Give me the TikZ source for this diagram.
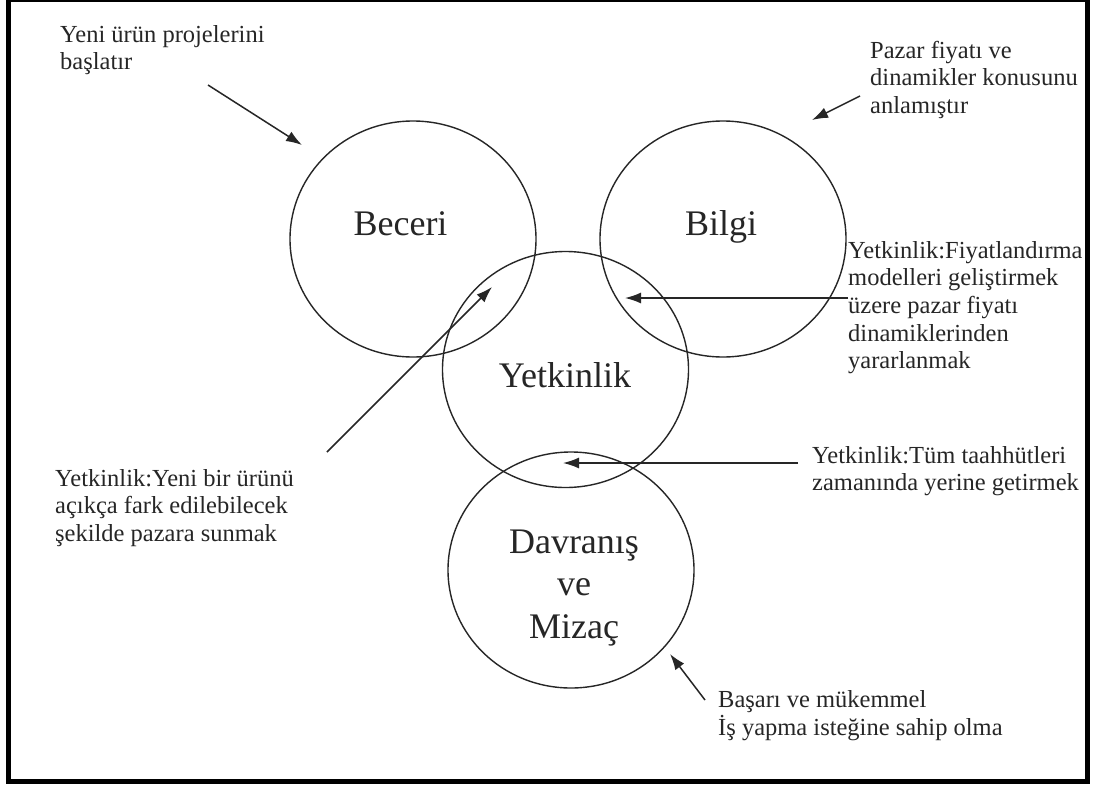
\documentclass[tikz,border=0pt]{standalone}
\usepackage{fontspec}
\setmainfont{Liberation Serif}
\usetikzlibrary{arrows.meta,shapes.geometric}
% multi-line text whose baseline is that of its first line
\newcommand{\leftlines}[1]{\begin{tabular}[t]{@{}l@{}}#1\end{tabular}}
\newcommand{\midlines}[1]{\begin{tabular}[t]{@{}c@{}}#1\end{tabular}}

\begin{document}
\begin{tikzpicture}[x=1pt,y=-1pt,
  ring/.style={draw=black!85, ellipse, line width=1.4pt, minimum width=246pt,
               minimum height=236pt, inner sep=0pt},
  big/.style={font=\fontsize{36}{42.5}\selectfont, text=black!85, inner sep=0pt, anchor=base},
  note/.style={font=\fontsize{24.5}{27.7}\selectfont, text=black!85, inner sep=0pt, anchor=base west},
  pointer/.style={draw=black!85, line width=1.5pt, -{Latex[length=16pt,width=11pt]}},
]
\useasboundingbox (0,0) rectangle (1094,785);
\clip (0,0) rectangle (1094,785);
\fill[white] (0,0) rectangle (1094,785);

% outer frame
\draw[line width=5pt] (8.5,-1) rectangle (1087.5,781.5);

% the four rings
\node[ring] (beceri) at (413,239) {};
\node[ring] (bilgi)  at (723,239) {};
\node[ring] (yetkin) at (565.5,369.5) {};
\node[ring] (davran) at (571,570) {};

% ring labels
\node[big] (lbeceri) at (400.5,235) {Beceri};
\node[big] (lbilgi)  at (721,235) {Bilgi};
\node[big] (lyetkin) at (565,387) {Yetkinlik};
\node[big] (ldavran) at (574,553) {\midlines{Davranış\\ve\\Mizaç}};

% notes
\node[note] (n1) at (60,42) {\leftlines{Yeni ürün projelerini\\başlatır}};
\node[note] (n2) at (870,58) {\leftlines{Pazar fiyatı ve\\dinamikler konusunu\\anlamıştır}};
\node[note] (n3) at (848,258) {\leftlines{Yetkinlik:Fiyatlandırma\\modelleri geliştirmek\\üzere pazar fiyatı\\dinamiklerinden\\yararlanmak}};
\node[note] (n4) at (812,463) {\leftlines{Yetkinlik:Tüm taahhütleri\\zamanında yerine getirmek}};
\node[note] (n5) at (55,486) {\leftlines{Yetkinlik:Yeni bir ürünü\\açıkça fark edilebilecek\\şekilde pazara sunmak}};
\node[note] (n6) at (718,707) {\leftlines{Başarı ve mükemmel\\İş yapma isteğine sahip olma}};

% arrow ends
\coordinate (a1s) at (208,85);   \coordinate (a1e) at (302,145);
\coordinate (a2s) at (860,96);   \coordinate (a2e) at (812,120);
\coordinate (a3s) at (848,298);  \coordinate (a3e) at (625,298);
\coordinate (a4s) at (798,463);  \coordinate (a4e) at (563,463);
\coordinate (a5s) at (327,452);  \coordinate (a5e) at (492,287);
\coordinate (a6s) at (705,700);  \coordinate (a6e) at (670,654);

% arrows
\draw[pointer] (a1s) -- (a1e);
\draw[pointer] (a2s) -- (a2e);
\draw[pointer] (a3s) -- (a3e);
\draw[pointer] (a4s) -- (a4e);
\draw[pointer] (a5s) -- (a5e);
\draw[pointer] (a6s) -- (a6e);
\end{tikzpicture}
\end{document}
